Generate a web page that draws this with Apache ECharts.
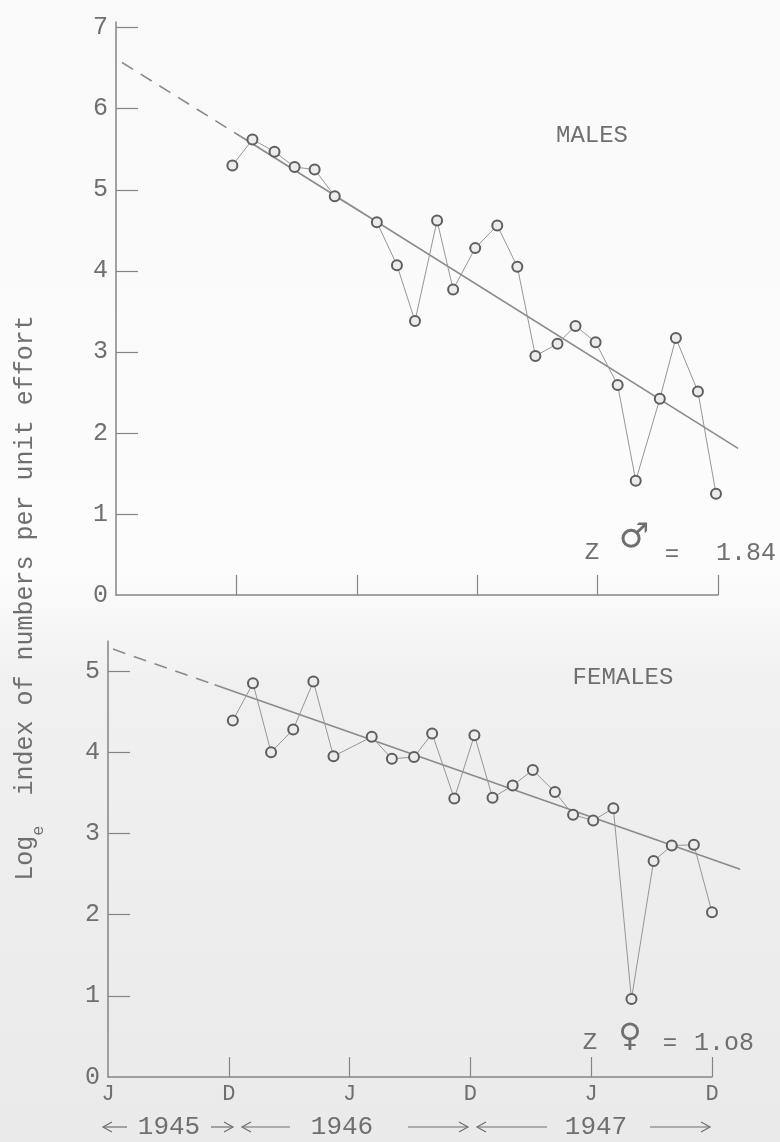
<!DOCTYPE html>
<html>
<head>
<meta charset="utf-8">
<title>Log index of numbers per unit effort</title>
<script src="https://cdn.jsdelivr.net/npm/echarts@6/dist/echarts.min.js"></script>
<style>
  html, body { margin: 0; padding: 0; }
  #main { width: 780px; height: 1142px; }
</style>
</head>
<body>
<div id="main"></div>
<script>
// months counted from June 1945 (J=0, D=6, J=12 ...)
var maleMonth = [5.8, 6.8, 7.9, 8.9, 9.9, 10.9, 13.0, 14.0, 14.9, 16.0, 16.8, 17.9,
                 19.0, 20.0, 20.9, 22.0, 22.9, 23.9, 25.0, 25.9, 27.1, 27.9, 29.0, 29.9];
var maleLog = [5.30, 5.62, 5.47, 5.28, 5.25, 4.92, 4.60, 4.07, 3.38, 4.62, 3.77, 4.28,
               4.56, 4.05, 2.95, 3.10, 3.32, 3.12, 2.59, 1.41, 2.42, 3.17, 2.51, 1.25];

var femaleMonth = [6.2, 7.2, 8.1, 9.2, 10.2, 11.2, 13.1, 14.1, 15.2, 16.1, 17.2, 18.2,
                   19.1, 20.1, 21.1, 22.2, 23.1, 24.1, 25.1, 26.0, 27.1, 28.0, 29.1, 30.0];
var femaleLog = [4.39, 4.85, 4.00, 4.28, 4.87, 3.95, 4.19, 3.92, 3.94, 4.23, 3.43, 4.21,
                 3.44, 3.59, 3.78, 3.51, 3.23, 3.16, 3.31, 0.96, 2.66, 2.85, 2.86, 2.03];

// fitted lines: [start, end of dashed part, end]
var maleFitMonth = [0.3, 6.2, 31.0];
var maleFitLog = [6.57, 5.66, 1.81];
var femaleFitMonth = [0.25, 5.3, 31.4];
var femaleFitLog = [5.27, 4.83, 2.56];

var tickMonths = [0, 6, 12, 18, 24, 30];
var tickLetters = ['J', 'D', 'J', 'D', 'J', 'D'];
var maleYTicks = [0, 1, 2, 3, 4, 5, 6, 7];
var femaleYTicks = [0, 1, 2, 3, 4, 5];

var MONO = "'Liberation Mono', 'DejaVu Sans Mono', monospace";
var INK = '#6f6f6f';
var AXIS = '#858585';

// the fitted lines run a little past the last tick, so they sit on a wider hidden grid
var WIDE = 31.5;
var gridTop = { left: 116, top: 22, width: 602, height: 573 };
var gridBottom = { left: 108, top: 641, width: 604, height: 436 };

function widen(g) {
  return { left: g.left, top: g.top, width: g.width * WIDE / 30, height: g.height };
}

function pairs(xs, ys) {
  return xs.map(function (x, i) { return [x, ys[i]]; });
}

function xAxisFor(grid, withLabels) {
  return {
    gridIndex: grid, type: 'value', min: 0, max: 30,
    axisLine: { show: true, onZero: false, lineStyle: { color: AXIS, width: 1.5 } },
    axisTick: { show: true, inside: true, length: 20, customValues: tickMonths.slice(1),
                lineStyle: { color: AXIS, width: 1.2 } },
    axisLabel: { show: withLabels, customValues: tickMonths, margin: 6,
                 color: INK, fontSize: 22, fontFamily: MONO,
                 formatter: function (v) { return tickLetters[tickMonths.indexOf(v)]; } },
    splitLine: { show: false }
  };
}

function yAxisFor(grid, max, ticks) {
  return {
    gridIndex: grid, type: 'value', min: 0, max: max,
    axisLine: { show: true, onZero: false, lineStyle: { color: AXIS, width: 1.5 } },
    axisTick: { show: true, inside: true, length: 22, customValues: ticks.slice(1),
                lineStyle: { color: AXIS, width: 1.2 } },
    axisLabel: { show: true, customValues: ticks, margin: 8,
                 color: INK, fontSize: 25, fontFamily: MONO },
    splitLine: { show: false }
  };
}

function hiddenAxis(grid, max) {
  return { gridIndex: grid, type: 'value', min: 0, max: max, show: false,
           splitLine: { show: false } };
}

function pointSeries(idx, data) {
  return {
    type: 'line', xAxisIndex: idx, yAxisIndex: idx, data: data,
    symbol: 'circle', symbolSize: 10,
    lineStyle: { color: '#969696', width: 1 },
    itemStyle: { color: '#ececec', borderColor: '#5e5e5e', borderWidth: 2 },
    z: 3, animation: false
  };
}

function fitSeries(idx, data, dashed) {
  return {
    type: 'line', xAxisIndex: idx, yAxisIndex: idx, data: data,
    symbol: 'none',
    lineStyle: { color: '#8a8a8a', width: 1.6, type: dashed ? [13, 9] : 'solid' },
    z: 2, animation: false
  };
}

function arrow(x1, x2, y, headLeft) {
  var hx = headLeft ? x1 : x2;
  var d = headLeft ? 9 : -9;
  return [
    { type: 'line', shape: { x1: x1, y1: y, x2: x2, y2: y }, style: { stroke: INK, lineWidth: 1.2 } },
    { type: 'polyline', shape: { points: [[hx + d, y - 5], [hx, y], [hx + d, y + 5]] },
      style: { stroke: INK, lineWidth: 1.2, fill: null } }
  ];
}

function label(text, x, y, size, font, align) {
  return { type: 'text', x: x, y: y,
    style: { text: text, fill: INK, font: size + 'px ' + (font || MONO),
             textAlign: align || 'center', textVerticalAlign: 'middle' } };
}

var graphics = [
  {
    type: 'text', x: 30, y: 598, rotation: Math.PI / 2,
    style: {
      text: '{a|Log}{b|e}{a|  index of numbers per unit effort}',
      textAlign: 'center', textVerticalAlign: 'middle', fill: INK,
      rich: {
        a: { fontFamily: MONO, fontSize: 25, lineHeight: 34, verticalAlign: 'top', fill: INK },
        b: { fontFamily: MONO, fontSize: 17, lineHeight: 16, verticalAlign: 'bottom', fill: INK }
      }
    }
  },
  label('MALES', 592, 136, 24),
  label('FEMALES', 623, 678, 24),
  label('Z', 592, 553, 24),
  label('\u2642', 634, 538, 34, "'DejaVu Sans'"),
  label('=', 672, 555, 24),
  label('1.84', 776, 553, 25, null, 'right'),
  label('Z', 590, 1043, 24),
  label('\u2640', 630, 1038, 32, "'DejaVu Sans'"),
  label('=', 670, 1044, 24),
  label('1.o8', 754, 1043, 25, null, 'right'),
  label('1945', 169, 1127, 26),
  label('1946', 342, 1127, 26),
  label('1947', 596, 1127, 26)
]
  .concat(arrow(103, 127, 1127, true))
  .concat(arrow(211, 233, 1127, false))
  .concat(arrow(242, 290, 1127, true))
  .concat(arrow(408, 468, 1127, false))
  .concat(arrow(477, 547, 1127, true))
  .concat(arrow(650, 710, 1127, false));

var chart = echarts.init(document.getElementById('main'), null, { renderer: 'canvas' });
chart.setOption({
  backgroundColor: {
    type: 'linear', x: 0, y: 0, x2: 0, y2: 1,
    colorStops: [
      { offset: 0, color: '#f9f9f9' },
      { offset: 0.5, color: '#fcfcfc' },
      { offset: 0.6, color: '#f0f0f0' },
      { offset: 1, color: '#eaeaea' }
    ]
  },
  animation: false,
  grid: [gridTop, gridBottom, widen(gridTop), widen(gridBottom)],
  xAxis: [xAxisFor(0, false), xAxisFor(1, true), hiddenAxis(2, WIDE), hiddenAxis(3, WIDE)],
  yAxis: [yAxisFor(0, 7.07, maleYTicks), yAxisFor(1, 5.37, femaleYTicks),
          hiddenAxis(2, 7.07), hiddenAxis(3, 5.37)],
  series: [
    fitSeries(2, pairs(maleFitMonth.slice(0, 2), maleFitLog.slice(0, 2)), true),
    fitSeries(2, pairs(maleFitMonth.slice(1), maleFitLog.slice(1)), false),
    pointSeries(0, pairs(maleMonth, maleLog)),
    fitSeries(3, pairs(femaleFitMonth.slice(0, 2), femaleFitLog.slice(0, 2)), true),
    fitSeries(3, pairs(femaleFitMonth.slice(1), femaleFitLog.slice(1)), false),
    pointSeries(1, pairs(femaleMonth, femaleLog))
  ],
  graphic: graphics
});
</script>
</body>
</html>
